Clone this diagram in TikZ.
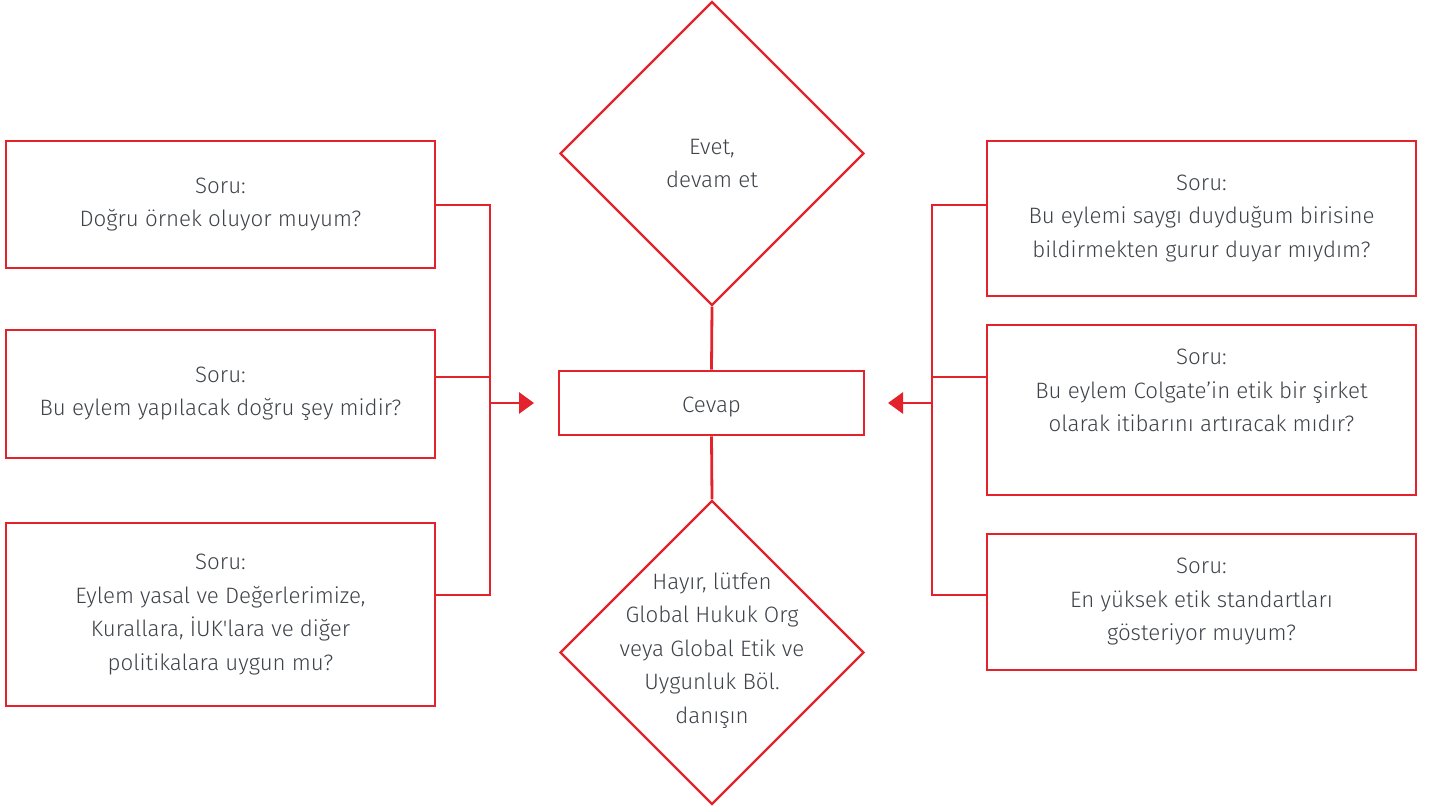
\documentclass[tikz,border=0pt]{standalone}
\usepackage{fontspec}
\setmainfont{Fira Sans Light}
\usetikzlibrary{shapes.geometric,arrows.meta,calc}
\definecolor{cred}{HTML}{E3222B}
\definecolor{ctext}{HTML}{3F4349}
\begin{document}
\begin{tikzpicture}[x=1pt,y=-1pt,
  every node/.style={font=\fontsize{22.3}{33.5}\selectfont, text=ctext, align=center},
  box/.style={draw=cred, line width=2.8pt, rectangle, minimum width=429pt, inner sep=0pt},
  dia/.style={draw=cred, line width=2.3pt, diamond, minimum width=304pt, minimum height=304pt, inner sep=0pt},
  conn/.style={draw=cred, line width=2.8pt},
  arr/.style={draw=cred, line width=2.8pt, -{Triangle[length=15pt,width=21pt]}}]
\useasboundingbox (0,0) rectangle (1436,810);
% left boxes
\node[box, minimum height=127pt] (l1) at (220.5,204.5) {Soru:\\Doğru örnek oluyor muyum?};
\node[box, minimum height=128pt] (l2) at (220.5,394) {Soru:\\Bu eylem yapılacak doğru şey midir?};
\node[box, minimum height=183pt] (l3) at (220.5,614.5) {Soru:\\Eylem yasal ve Değerlerimize,\\Kurallara, İUK\textquotesingle lara ve diğer\\politikalara uygun mu?};
% right boxes
\node[box, minimum height=155pt] (r1) at (1201.5,218.5) {Soru:\\Bu eylemi saygı duyduğum birisine\\bildirmekten gurur duyar mıydım?};
\node[box, minimum height=170pt] (r2) at (1201.5,410) {Soru:\\Bu eylem Colgate’in etik bir şirket\\olarak itibarını artıracak mıdır?\\[6pt]~};
\node[box, minimum height=136pt] (r3) at (1201.5,602) {Soru:\\En yüksek etik standartları\\gösteriyor muyum?};
% centre
\node[box, minimum width=305pt, minimum height=64pt, text depth=0pt] (cev) at (711.5,403) {\raisebox{-4pt}{Cevap}};
\node[dia] (yes) at (712,153.5) {};
\node (yest) at ($(yes.center)+(0,10)$) {Evet,\\devam et};
\node[dia] (no) at (712,652.5) {};
\node (not) at ($(no.center)+(0,-2)$) {Hayır, lütfen\\Global Hukuk Org\\veya Global Etik ve\\Uygunluk Böl.\\danışın};
% left bracket
\coordinate (lb1) at (490,205);
\coordinate (lb2) at (490,377);
\coordinate (lb3) at (490,595);
\coordinate (lba) at (490,403);
\coordinate (lbt) at (534,403);
\draw[conn] (l1.east |- lb1) -- (lb1) -- (lb3) -- (l3.east |- lb3);
\draw[conn] (l2.east |- lb2) -- (lb2);
\draw[arr] (lba) -- (lbt);
% right bracket
\coordinate (rb1) at (932,205);
\coordinate (rb2) at (932,377);
\coordinate (rb3) at (932,595);
\coordinate (rba) at (932,403);
\coordinate (rbt) at (888,403);
\draw[conn] (r1.west |- rb1) -- (rb1) -- (rb3) -- (r3.west |- rb3);
\draw[conn] (r2.west |- rb2) -- (rb2);
\draw[arr] (rba) -- (rbt);
% vertical links
\draw[conn] (yes.south) -- (cev.north);
\draw[conn] (cev.south) -- (no.north);
\end{tikzpicture}
\end{document}
